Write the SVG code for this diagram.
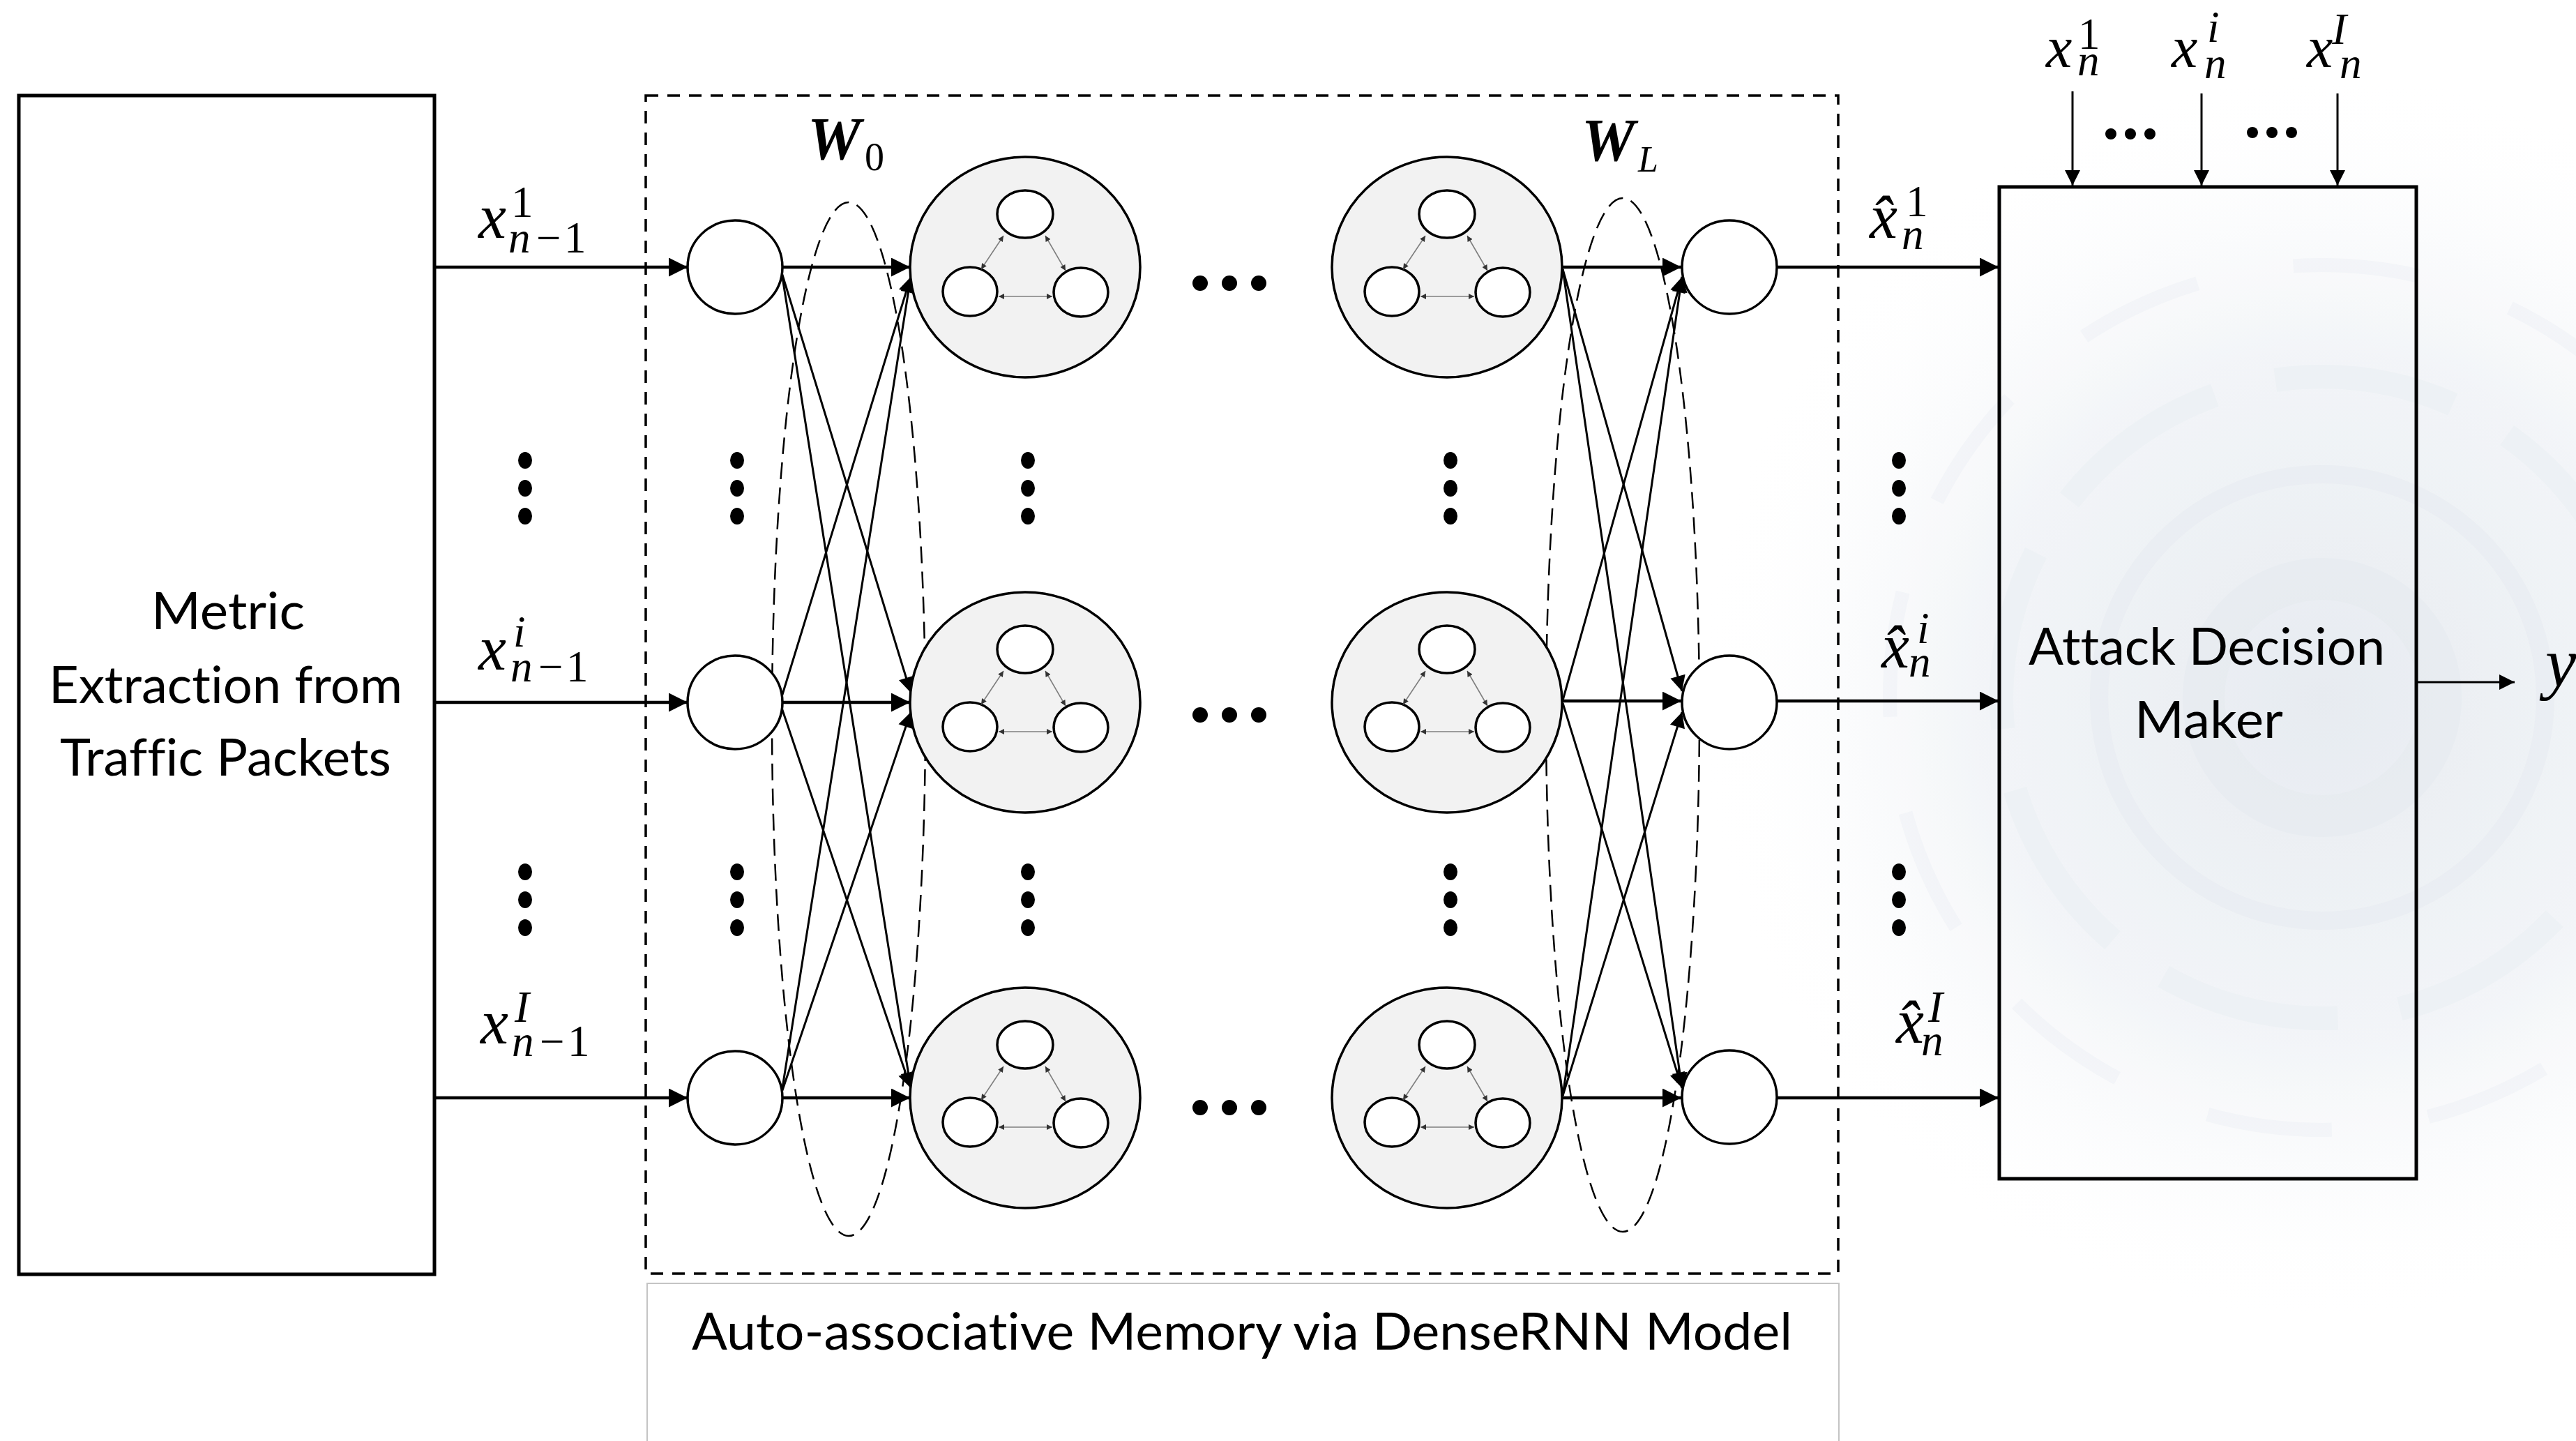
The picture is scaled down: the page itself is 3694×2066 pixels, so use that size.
<svg xmlns="http://www.w3.org/2000/svg" width="3694" height="2066" viewBox="0 0 3694 2066">
<defs>
  <style>
    .box{fill:none;stroke:#000;stroke-width:5}
    .node{fill:#fff;stroke:#000;stroke-width:3.5}
    .big{fill:#f2f2f2;stroke:#000;stroke-width:3.5}
    .inner{fill:#fff;stroke:#000;stroke-width:3.5}
    .dash{fill:none;stroke:#000;stroke-width:3.5;stroke-dasharray:18 13}
    .ell{fill:none;stroke:#000;stroke-width:2.5;stroke-dasharray:24 12}
    .main{stroke:#000;stroke-width:4.5;fill:none}
    .thin{stroke:#000;stroke-width:3;fill:none}
    .tiny{stroke:#7f7f7f;stroke-width:1.6;fill:none}
    .dot{fill:#000}
    .lbl{font-family:"Lato","Liberation Sans",sans-serif;font-size:74px;fill:#000;font-variant-ligatures:none;font-feature-settings:"liga" 0,"dlig" 0}
    .m{font-family:"Liberation Serif","DejaVu Serif",serif;fill:#000}
    .mx{font-size:90px;font-style:italic}
    .mt{font-size:84px;font-style:italic}
    .sup{font-size:63px}
    .it{font-style:italic}
  </style>
  <marker id="ah" viewBox="0 0 10 10" refX="10" refY="5" markerWidth="28" markerHeight="27" markerUnits="userSpaceOnUse" orient="auto">
    <path d="M0,0 L10,5 L0,10 Z" fill="#000"/>
  </marker>
  <marker id="ahs" viewBox="0 0 10 10" refX="10" refY="5" markerWidth="26" markerHeight="22" markerUnits="userSpaceOnUse" orient="auto">
    <path d="M0,0 L10,5 L0,10 Z" fill="#000"/>
  </marker>
  <marker id="at" viewBox="0 0 10 10" refX="10" refY="5" markerWidth="9" markerHeight="8" markerUnits="userSpaceOnUse" orient="auto-start-reverse">
    <path d="M0,0 L10,5 L0,10 Z" fill="#333"/>
  </marker>
  <radialGradient id="wm" cx="0.5" cy="0.5" r="0.5">
    <stop offset="0" stop-color="#d7dee7" stop-opacity="0.7"/>
    <stop offset="0.55" stop-color="#e2e8ef" stop-opacity="0.5"/>
    <stop offset="1" stop-color="#ffffff" stop-opacity="0"/>
  </radialGradient>
  <g id="tri">
    <ellipse class="inner" cx="0" cy="-76" rx="40" ry="34"/>
    <ellipse class="inner" cx="-79" cy="35" rx="39" ry="35"/>
    <ellipse class="inner" cx="80" cy="36" rx="39" ry="35"/>
    <line class="tiny" x1="-31" y1="-45" x2="-63" y2="3" marker-start="url(#at)" marker-end="url(#at)"/>
    <line class="tiny" x1="29" y1="-45" x2="58" y2="5" marker-start="url(#at)" marker-end="url(#at)"/>
    <line class="tiny" x1="-38" y1="42" x2="39" y2="42" marker-start="url(#at)" marker-end="url(#at)"/>
  </g>
</defs>
<rect width="3694" height="2066" fill="#fff"/>

<g id="watermark" opacity="0.85">
  <ellipse cx="3330" cy="1000" rx="900" ry="900" fill="url(#wm)"/>
  <circle cx="3330" cy="1000" r="170" fill="none" stroke="#dfe5ec" stroke-width="60" opacity="0.5"/>
  <circle cx="3330" cy="1000" r="320" fill="none" stroke="#e2e8ee" stroke-width="26" opacity="0.5"/>
  <circle cx="3330" cy="1000" r="460" fill="none" stroke="#e6ebf1" stroke-width="34" stroke-dasharray="260 90" opacity="0.5"/>
  <circle cx="3330" cy="1000" r="620" fill="none" stroke="#eaeef3" stroke-width="20" stroke-dasharray="180 140" opacity="0.5"/>
</g>

<g id="dense-box">
  <rect class="dash" x="926" y="137" width="1710" height="1689"/>
</g>
<g id="caption-box">
  <rect x="928" y="1840" width="1709" height="260" fill="#fff" stroke="#c4c4c4" stroke-width="2"/>
  <text class="lbl" x="992" y="1935" textLength="1578" lengthAdjust="spacingAndGlyphs">Auto-associative Memory via DenseRNN Model</text>
</g>

<g id="metric-box">
  <rect class="box" x="27" y="137" width="596" height="1690" fill="#fff"/>
  <text class="lbl" x="217" y="902" textLength="220" lengthAdjust="spacingAndGlyphs">Metric</text>
  <text class="lbl" x="70" y="1008" textLength="507" lengthAdjust="spacingAndGlyphs">Extraction from</text>
  <text class="lbl" x="86" y="1112" textLength="475" lengthAdjust="spacingAndGlyphs">Traffic Packets</text>
</g>

<g id="decision-box">
  <rect class="box" x="2867" y="268" width="598" height="1422"/>
  <text class="lbl" x="2909" y="953" textLength="511" lengthAdjust="spacingAndGlyphs">Attack Decision</text>
  <text class="lbl" x="3061" y="1058" textLength="213" lengthAdjust="spacingAndGlyphs">Maker</text>
</g>

<g id="weight-groups">
  <ellipse class="ell" cx="1217" cy="1031" rx="110" ry="741"/>
  <ellipse class="ell" cx="2327" cy="1025" rx="110" ry="741"/>
  <text class="m" x="1158" y="228" style="font-size:86px;font-weight:bold;font-style:italic">W</text>
  <text class="m" x="1240" y="244" style="font-size:56px">0</text>
  <text class="m" x="2268" y="230" style="font-size:86px;font-weight:bold;font-style:italic">W</text>
  <text class="m" x="2349" y="246" style="font-size:52px;font-style:italic">L</text>
</g>

<g id="connectors">
  <line class="main" x1="623" y1="383" x2="986" y2="383" marker-end="url(#ah)"/>
  <line class="main" x1="623" y1="1007" x2="986" y2="1007" marker-end="url(#ah)"/>
  <line class="main" x1="623" y1="1574" x2="986" y2="1574" marker-end="url(#ah)"/>
  <line class="main" x1="1122" y1="383" x2="1305" y2="383" marker-end="url(#ah)"/>
  <line class="main" x1="1122" y1="1007" x2="1305" y2="1007" marker-end="url(#ah)"/>
  <line class="main" x1="1122" y1="1574" x2="1305" y2="1574" marker-end="url(#ah)"/>
  <line class="thin" x1="1121" y1="391" x2="1306" y2="993" marker-end="url(#ahs)"/>
  <line class="thin" x1="1121" y1="391" x2="1306" y2="1560" marker-end="url(#ahs)"/>
  <line class="thin" x1="1121" y1="999" x2="1306" y2="397" marker-end="url(#ahs)"/>
  <line class="thin" x1="1121" y1="1015" x2="1306" y2="1560" marker-end="url(#ahs)"/>
  <line class="thin" x1="1121" y1="1566" x2="1306" y2="397" marker-end="url(#ahs)"/>
  <line class="thin" x1="1121" y1="1566" x2="1306" y2="1021" marker-end="url(#ahs)"/>
  <line class="main" x1="2241" y1="383" x2="2411" y2="383" marker-end="url(#ah)"/>
  <line class="main" x1="2241" y1="1005" x2="2411" y2="1005" marker-end="url(#ah)"/>
  <line class="main" x1="2241" y1="1574" x2="2411" y2="1574" marker-end="url(#ah)"/>
  <line class="thin" x1="2241" y1="386" x2="2412" y2="991" marker-end="url(#ahs)"/>
  <line class="thin" x1="2241" y1="386" x2="2412" y2="1560" marker-end="url(#ahs)"/>
  <line class="thin" x1="2241" y1="1004" x2="2412" y2="397" marker-end="url(#ahs)"/>
  <line class="thin" x1="2241" y1="1008" x2="2412" y2="1560" marker-end="url(#ahs)"/>
  <line class="thin" x1="2241" y1="1571" x2="2412" y2="397" marker-end="url(#ahs)"/>
  <line class="thin" x1="2241" y1="1571" x2="2412" y2="1021" marker-end="url(#ahs)"/>
  <line class="main" x1="2548" y1="383" x2="2866" y2="383" marker-end="url(#ah)"/>
  <line class="main" x1="2548" y1="1005" x2="2866" y2="1005" marker-end="url(#ah)"/>
  <line class="main" x1="2548" y1="1574" x2="2866" y2="1574" marker-end="url(#ah)"/>
  <line class="thin" x1="2972" y1="131" x2="2972" y2="266" marker-end="url(#ahs)"/>
  <line class="thin" x1="3157" y1="134" x2="3157" y2="266" marker-end="url(#ahs)"/>
  <line class="thin" x1="3352" y1="134" x2="3352" y2="266" marker-end="url(#ahs)"/>
  <line class="thin" x1="3466" y1="978" x2="3606" y2="978" marker-end="url(#ahs)"/>
</g>

<g id="input-nodes">
  <ellipse class="node" cx="1054" cy="383" rx="68" ry="67"/>
  <ellipse class="node" cx="1054" cy="1007" rx="68" ry="67"/>
  <ellipse class="node" cx="1054" cy="1574" rx="68" ry="67"/>
</g>
<g id="layer1">
  <ellipse class="big" cx="1470" cy="383" rx="165" ry="158"/>
  <use href="#tri" x="1470" y="383"/>
  <ellipse class="big" cx="1470" cy="1007" rx="165" ry="158"/>
  <use href="#tri" x="1470" y="1007"/>
  <ellipse class="big" cx="1470" cy="1574" rx="165" ry="158"/>
  <use href="#tri" x="1470" y="1574"/>
</g>
<g id="layerL">
  <ellipse class="big" cx="2075" cy="383" rx="165" ry="158"/>
  <use href="#tri" x="2075" y="383"/>
  <ellipse class="big" cx="2075" cy="1007" rx="165" ry="158"/>
  <use href="#tri" x="2075" y="1007"/>
  <ellipse class="big" cx="2075" cy="1574" rx="165" ry="158"/>
  <use href="#tri" x="2075" y="1574"/>
</g>
<g id="output-nodes">
  <ellipse class="node" cx="2480" cy="383" rx="68" ry="67"/>
  <ellipse class="node" cx="2480" cy="1007" rx="68" ry="67"/>
  <ellipse class="node" cx="2480" cy="1573" rx="68" ry="67"/>
</g>

<g id="ellipsis-dots">
  <g>
    <ellipse class="dot" cx="753" cy="660" rx="10" ry="12"/><ellipse class="dot" cx="753" cy="700" rx="10" ry="12"/><ellipse class="dot" cx="753" cy="740" rx="10" ry="12"/>
    <ellipse class="dot" cx="1057" cy="660" rx="10" ry="12"/><ellipse class="dot" cx="1057" cy="700" rx="10" ry="12"/><ellipse class="dot" cx="1057" cy="740" rx="10" ry="12"/>
    <ellipse class="dot" cx="1474" cy="660" rx="10" ry="12"/><ellipse class="dot" cx="1474" cy="700" rx="10" ry="12"/><ellipse class="dot" cx="1474" cy="740" rx="10" ry="12"/>
    <ellipse class="dot" cx="2080" cy="660" rx="10" ry="12"/><ellipse class="dot" cx="2080" cy="700" rx="10" ry="12"/><ellipse class="dot" cx="2080" cy="740" rx="10" ry="12"/>
    <ellipse class="dot" cx="2723" cy="660" rx="10" ry="12"/><ellipse class="dot" cx="2723" cy="700" rx="10" ry="12"/><ellipse class="dot" cx="2723" cy="740" rx="10" ry="12"/>
  </g>
  <g>
    <ellipse class="dot" cx="753" cy="1250" rx="10" ry="12"/><ellipse class="dot" cx="753" cy="1290" rx="10" ry="12"/><ellipse class="dot" cx="753" cy="1330" rx="10" ry="12"/>
    <ellipse class="dot" cx="1057" cy="1250" rx="10" ry="12"/><ellipse class="dot" cx="1057" cy="1290" rx="10" ry="12"/><ellipse class="dot" cx="1057" cy="1330" rx="10" ry="12"/>
    <ellipse class="dot" cx="1474" cy="1250" rx="10" ry="12"/><ellipse class="dot" cx="1474" cy="1290" rx="10" ry="12"/><ellipse class="dot" cx="1474" cy="1330" rx="10" ry="12"/>
    <ellipse class="dot" cx="2080" cy="1250" rx="10" ry="12"/><ellipse class="dot" cx="2080" cy="1290" rx="10" ry="12"/><ellipse class="dot" cx="2080" cy="1330" rx="10" ry="12"/>
    <ellipse class="dot" cx="2723" cy="1250" rx="10" ry="12"/><ellipse class="dot" cx="2723" cy="1290" rx="10" ry="12"/><ellipse class="dot" cx="2723" cy="1330" rx="10" ry="12"/>
  </g>
  <g>
    <circle class="dot" cx="1721" cy="406" r="11"/><circle class="dot" cx="1763" cy="406" r="11"/><circle class="dot" cx="1805" cy="406" r="11"/>
    <circle class="dot" cx="1721" cy="1025" r="11"/><circle class="dot" cx="1763" cy="1025" r="11"/><circle class="dot" cx="1805" cy="1025" r="11"/>
    <circle class="dot" cx="1721" cy="1588" r="11"/><circle class="dot" cx="1763" cy="1588" r="11"/><circle class="dot" cx="1805" cy="1588" r="11"/>
  </g>
  <g>
    <circle class="dot" cx="3027" cy="192" r="8"/><circle class="dot" cx="3055" cy="192" r="8"/><circle class="dot" cx="3083" cy="192" r="8"/>
    <circle class="dot" cx="3230" cy="190" r="8"/><circle class="dot" cx="3258" cy="190" r="8"/><circle class="dot" cx="3286" cy="190" r="8"/>
  </g>
</g>

<g id="labels">
  <text class="m"><tspan class="mx" x="686" y="341">x</tspan><tspan class="sup" x="733" y="311">1</tspan><tspan class="sup it" x="729" y="362">n</tspan><tspan class="sup" x="769" y="362">−</tspan><tspan class="sup" x="809" y="362">1</tspan></text>
  <text class="m"><tspan class="mx" x="686" y="960">x</tspan><tspan class="sup it" x="736" y="927">i</tspan><tspan class="sup it" x="732" y="977">n</tspan><tspan class="sup" x="772" y="977">−</tspan><tspan class="sup" x="812" y="977">1</tspan></text>
  <text class="m"><tspan class="mx" x="689" y="1496">x</tspan><tspan class="sup it" x="738" y="1465">I</tspan><tspan class="sup it" x="734" y="1514">n</tspan><tspan class="sup" x="774" y="1514">−</tspan><tspan class="sup" x="814" y="1514">1</tspan></text>

  <text class="m"><tspan class="mx" x="2681" y="341">x̂</tspan><tspan class="sup" x="2733" y="310">1</tspan><tspan class="sup it" x="2727" y="357">n</tspan></text>
  <text class="m"><tspan class="mx" x="2698" y="957">x̂</tspan><tspan class="sup it" x="2749" y="922">i</tspan><tspan class="sup it" x="2737" y="970">n</tspan></text>
  <text class="m"><tspan class="mx" x="2719" y="1495">x̂</tspan><tspan class="sup it" x="2765" y="1465">I</tspan><tspan class="sup it" x="2755" y="1513">n</tspan></text>

  <text class="m"><tspan class="mt" x="2934" y="96">x</tspan><tspan class="sup" x="2980" y="70">1</tspan><tspan class="sup it" x="2979" y="108">n</tspan></text>
  <text class="m"><tspan class="mt" x="3114" y="96">x</tspan><tspan class="sup it" x="3165" y="60">i</tspan><tspan class="sup it" x="3161" y="112">n</tspan></text>
  <text class="m"><tspan class="mt" x="3308" y="96">x</tspan><tspan class="sup it" x="3344" y="63">I</tspan><tspan class="sup it" x="3355" y="112">n</tspan></text>

  <text class="m" x="3650" y="984" style="font-size:100px;font-style:italic">y</text>
</g>
</svg>
